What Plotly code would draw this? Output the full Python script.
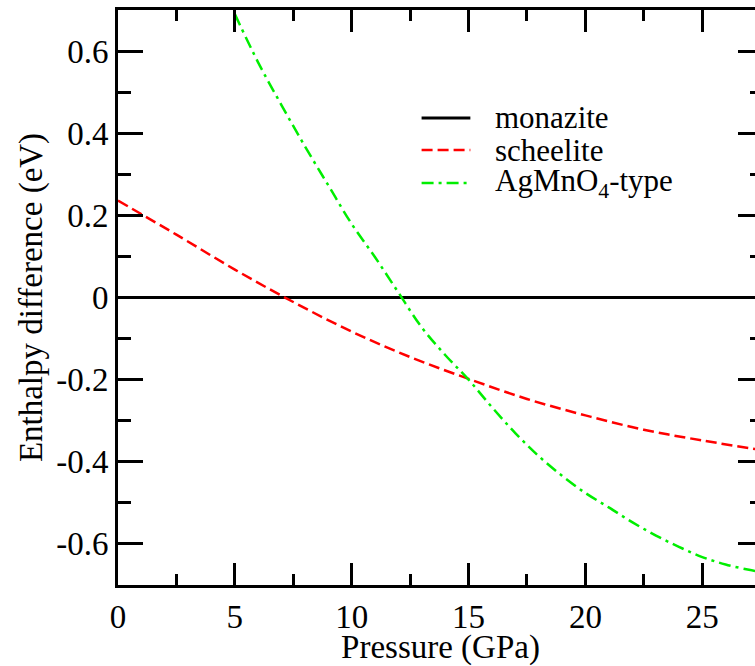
import plotly.graph_objects as go

# Data
pressure_mono = [0, 27.6]
enthalpy_mono = [0, 0]

pressure_sch = [0, 2.5, 5, 7.5, 10, 12.5, 15, 17.5, 20, 22.5, 25, 27.6]
enthalpy_sch = [0.236, 0.153, 0.068, -0.011, -0.083, -0.145, -0.198, -0.247, -0.287, -0.322, -0.348, -0.372]

pressure_agm = [5, 6, 7, 8, 9, 10, 11, 12, 13, 14, 15, 16, 17, 18, 19, 20, 21, 22, 23, 24, 25, 26, 27, 27.6]
enthalpy_agm = [0.69, 0.572, 0.468, 0.368, 0.273, 0.179, 0.098, 0.012, -0.073, -0.140, -0.200, -0.267,
                -0.330, -0.386, -0.434, -0.476, -0.511, -0.547, -0.579, -0.607, -0.632, -0.650, -0.663, -0.669]

x_ticks = [0, 5, 10, 15, 20, 25]
y_ticks = [-0.6, -0.4, -0.2, 0, 0.2, 0.4, 0.6]
y_tick_text = ["-0.6", "-0.4", "-0.2", "0", "0.2", "0.4", "0.6"]

series_names = ["monazite", "scheelite", "AgMnO<sub>4</sub>-type"]
series_colors = ["black", "#ff0000", "#00ee00"]
series_dash = ["solid", "11px,5px", "12px,5px,3px,5px"]
series_width = [3, 2.5, 2.5]

FONT = "Liberation Serif"
FS = 33

fig = go.Figure()
series = [(pressure_mono, enthalpy_mono), (pressure_sch, enthalpy_sch), (pressure_agm, enthalpy_agm)]
for (xs, ys), name, col, dash, w in zip(series, series_names, series_colors, series_dash, series_width):
    fig.add_trace(go.Scatter(x=xs, y=ys, mode="lines", name=name, showlegend=False,
                             line=dict(color=col, width=w, dash=dash, shape="spline")))

# Manual legend (sample lines + text) in pixel-matched paper coordinates
W, H = 767, 666
L, R, T, B = 118, 1, 10, 81
pw, ph = W - L - R, H - T - B
def px_to_paper_x(px):
    return (px - L) / pw
def px_to_paper_y(py):
    return 1 - (py - T) / ph

legend_rows = [118, 150, 183]
for row_y, name, col, dash, w in zip(legend_rows, series_names, series_colors, series_dash, series_width):
    yy = px_to_paper_y(row_y)
    fig.add_shape(type="line", xref="paper", yref="paper",
                  x0=px_to_paper_x(423), x1=px_to_paper_x(472), y0=yy, y1=yy,
                  line=dict(color=col, width=w, dash=dash))
    fig.add_annotation(xref="paper", yref="paper", x=px_to_paper_x(495), y=yy,
                       xanchor="left", yanchor="middle", text=name, showarrow=False,
                       font=dict(family=FONT, size=31, color="black"))

fig.update_layout(
    width=W, height=H,
    margin=dict(l=L, r=R, t=T, b=B),
    paper_bgcolor="white", plot_bgcolor="white",
    font=dict(family=FONT, size=FS, color="black"),
    showlegend=False,
)
fig.update_xaxes(
    range=[0, 27.6], tickvals=x_ticks, ticks="inside", ticklen=22, tickwidth=3, tickcolor="black",
    showline=True, linewidth=3, linecolor="black", mirror="allticks",
    showgrid=False, zeroline=False,
    minor=dict(dtick=2.5, tick0=0, ticks="inside", ticklen=11, tickwidth=3, tickcolor="black"),
    title=dict(text="Pressure (GPa)", font=dict(size=FS), standoff=0),
    tickfont=dict(size=FS),
)
fig.update_yaxes(
    range=[-0.7, 0.7], tickvals=y_ticks, ticktext=y_tick_text, ticks="inside", ticklen=25, tickwidth=3,
    tickcolor="black",
    showline=True, linewidth=3, linecolor="black", mirror="allticks",
    showgrid=False, zeroline=False,
    minor=dict(dtick=0.1, tick0=0, ticks="inside", ticklen=13, tickwidth=3, tickcolor="black"),
    title=dict(text="Enthalpy difference (eV)", font=dict(size=FS), standoff=4),
    tickfont=dict(size=FS),
)

fig.write_html("out.html",
               post_script="document.documentElement.style.overflow='hidden';"
                           "document.body.style.overflow='hidden';document.body.style.margin='0';")
